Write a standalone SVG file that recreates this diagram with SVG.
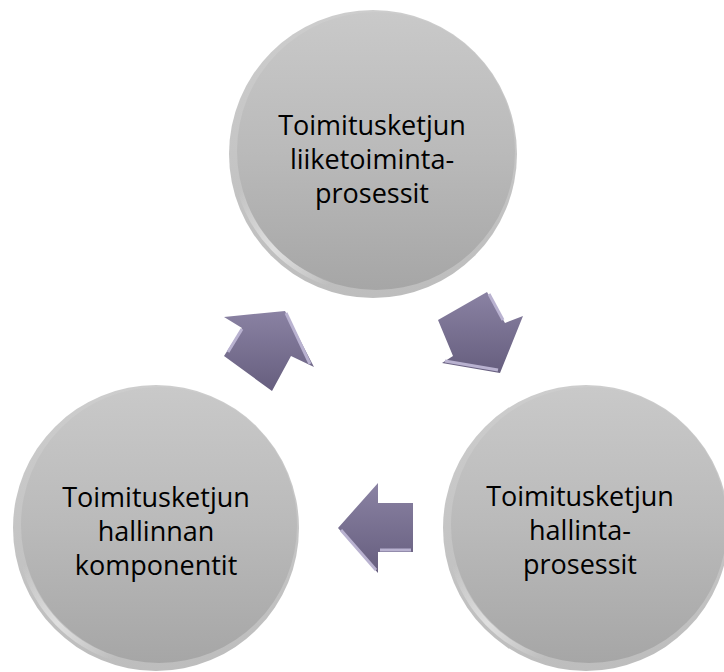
<svg xmlns="http://www.w3.org/2000/svg" width="724" height="672" viewBox="0 0 724 672">
  <defs>
    <linearGradient id="rim" x1="0" y1="0" x2="0" y2="1">
      <stop offset="0" stop-color="#cdcdcd"/>
      <stop offset="1" stop-color="#bdbdbd"/>
    </linearGradient>
    <linearGradient id="face" x1="0" y1="0" x2="0" y2="1">
      <stop offset="0" stop-color="#c9c9c9"/>
      <stop offset="0.5" stop-color="#bababa"/>
      <stop offset="1" stop-color="#a6a6a6"/>
    </linearGradient>
    <linearGradient id="arrowFill" x1="0" y1="0" x2="0" y2="1">
      <stop offset="0" stop-color="#8a82a3"/>
      <stop offset="1" stop-color="#665e7e"/>
    </linearGradient>
    <linearGradient id="hl" x1="0" y1="0" x2="1" y2="1">
      <stop offset="0" stop-color="#e6e6e6" stop-opacity="0"/>
      <stop offset="0.5" stop-color="#e2e2e2" stop-opacity="0.9"/>
      <stop offset="1" stop-color="#e6e6e6" stop-opacity="0"/>
    </linearGradient>
  </defs>
  <style>
    .outer { fill: url(#rim); }
    .inner { fill: url(#face); }
    .shine { fill: none; stroke: url(#hl); stroke-width: 5; }
    .label { font-family: "Open Sans", "Noto Sans", "Liberation Sans", sans-serif; font-size: 27px; fill: #000000; text-anchor: middle; }
    .arrow { fill: url(#arrowFill); }
    .bevel { fill: none; stroke: #b9b2d0; stroke-width: 3; stroke-linejoin: round; }
  </style>
  <rect width="724" height="672" fill="#ffffff"/>

  <g id="node-top">
    <circle class="outer" cx="373" cy="154" r="144"/>
    <circle class="inner" cx="376" cy="151" r="139"/>
    <path class="shine" d="M 240 190 A 137 137 0 0 0 330 284"/>
    <text class="label" x="372" y="135">Toimitusketjun</text>
    <text class="label" x="372" y="169">liiketoiminta-</text>
    <text class="label" x="372" y="203">prosessit</text>
  </g>

  <g id="node-left">
    <circle class="outer" cx="156" cy="528" r="143"/>
    <circle class="inner" cx="159" cy="525" r="138"/>
    <path class="shine" d="M 24 565 A 136 136 0 0 0 114 658"/>
    <text class="label" x="156" y="507">Toimitusketjun</text>
    <text class="label" x="156" y="541">hallinnan</text>
    <text class="label" x="156" y="575">komponentit</text>
  </g>

  <g id="node-right">
    <circle class="outer" cx="586" cy="528" r="143"/>
    <circle class="inner" cx="589" cy="525" r="138"/>
    <path class="shine" d="M 454 565 A 136 136 0 0 0 544 658"/>
    <text class="label" x="580" y="506">Toimitusketjun</text>
    <text class="label" x="580" y="540">hallinta-</text>
    <text class="label" x="580" y="574">prosessit</text>
  </g>

  <g id="connectors">
    <g id="arrow-left-to-top">
      <polygon class="arrow" points="285,311 314,367 291,356 272,391 224,356 242,328 224,317"/>
      <polyline class="bevel" points="242,329 228,352"/>
      <polyline class="bevel" points="286,313 310,364"/>
    </g>
    <g id="arrow-top-to-right">
      <polygon class="arrow" points="438,320 487,292 505,323 523,316 500,373 442,363 453,356"/>
      <polyline class="bevel" points="445,361 498,370"/>
      <polyline class="bevel" points="489,294 503,320"/>
    </g>
    <g id="arrow-right-to-left">
      <polygon class="arrow" points="338,528 378,483 378,503 413,503 413,552 378,552 378,573"/>
      <polyline class="bevel" points="341,530 376,570"/>
      <polyline class="bevel" points="380,550 411,550"/>
    </g>
  </g>
</svg>
